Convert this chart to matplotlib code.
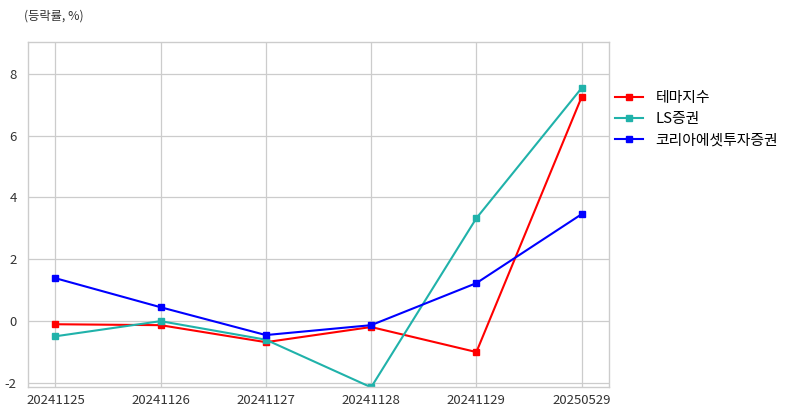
import matplotlib
matplotlib.use("Agg")
import matplotlib.pyplot as plt

plt.rcParams['font.family'] = ['Noto Sans CJK KR', 'DejaVu Sans']
plt.rcParams['axes.unicode_minus'] = False

dates = ["20241125", "20241126", "20241127", "20241128", "20241129", "20250529"]
theme = [-0.10, -0.13, -0.68, -0.19, -1.00, 7.25]
ls = [-0.49, 0.00, -0.60, -2.14, 3.33, 7.54]
korea = [1.39, 0.45, -0.45, -0.13, 1.23, 3.46]
series_names = ["테마지수", "LS증권", "코리아에셋투자증권"]
colors = ["#ff0000", "#20b2aa", "#0000ff"]
yticks = [-2, 0, 2, 4, 6, 8]

fig = plt.figure(figsize=(7.94, 4.16), dpi=100)
ax = fig.add_axes([28/794, 1-387/416, (609-28)/794, (387-42)/416])
x = list(range(len(dates)))
for vals, name, c in zip([theme, ls, korea], series_names, colors):
    ax.plot(x, vals, color=c, marker='s', markersize=4.5, linewidth=1.5, label=name)

ax.set_xlim(-0.26, 5.26)
ax.set_ylim(-2.13, 9.03)
ax.set_xticks(x)
ax.set_xticklabels(dates)
ax.set_yticks(yticks)
ax.grid(True, color='#cccccc', linewidth=0.9)
ax.set_axisbelow(True)
for s in ax.spines.values():
    s.set_color('#cccccc')
    s.set_linewidth(1.0)
ax.tick_params(axis='both', length=0, labelsize=9.5, colors='#333333', pad=5)
ax.tick_params(axis='y', pad=8)

fig.text(24/794, 1-16/416, "(등락률, %)", fontsize=8.8, color='#333333', va='center', ha='left')

ax.legend(loc='upper left', bbox_to_anchor=(1.0, 0.876), borderaxespad=0, frameon=False, fontsize=10.7,
          handlelength=1.9, labelspacing=0.5, handletextpad=0.82)

fig.savefig("out.png", dpi=100)
